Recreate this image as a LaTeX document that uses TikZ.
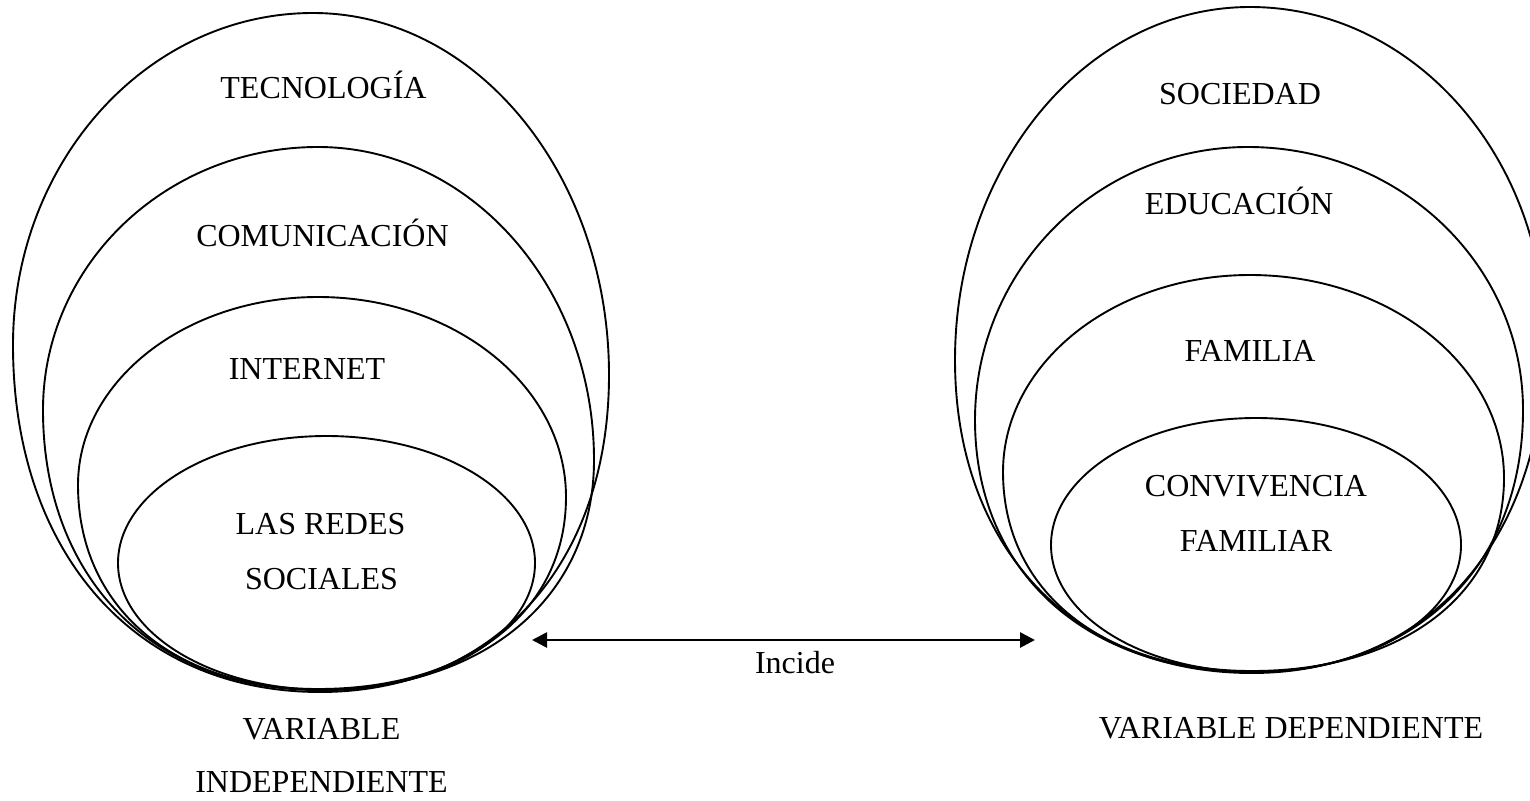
\documentclass[tikz,border=0pt]{standalone}
\usepackage{fontspec}
\setmainfont{Liberation Serif}
\usetikzlibrary{arrows.meta}
% egg-shaped closed curve: T(#1,#2) R(#3,#4) B(#5,#6) L(#7,#8), bottom fullness #9
\newcommand{\eggring}[9]{%
  \draw[ring] (#1,#2) .. controls ({#1+0.5523*(#3-#1)},#2) and (#3,{#4-0.5523*(#4-#2)}) .. (#3,#4)
    .. controls (#3,{#4+#9*(#6-#4)}) and ({#5+#9*(#3-#5)},#6) .. (#5,#6)
    .. controls ({#5-#9*(#5-#7)},#6) and (#7,{#8+#9*(#6-#8)}) .. (#7,#8)
    .. controls (#7,{#8-0.5523*(#8-#2)}) and ({#1-0.5523*(#1-#7)},#2) .. (#1,#2) -- cycle;}
\begin{document}
\begin{tikzpicture}[x=1pt,y=-1pt,
  ring/.style={line width=1.9pt},
  lbl/.style={font=\fontsize{32}{38}\selectfont, inner sep=0pt, anchor=base},
  conn/.style={line width=2.7pt, {Triangle[length=15pt,width=15pt]}-{Triangle[length=15pt,width=15pt]}}]
\useasboundingbox (0,0) rectangle (1530,800);
% left group
\eggring{313}{13}{609}{375}{320}{692}{13}{345}{0.6}
\eggring{318}{147}{594}{460}{318}{690}{43}{410}{0.6}
\eggring{318}{297}{566}{497}{318}{689}{78}{485}{0.6}
\draw[ring] (326.5,563) ellipse (208.5 and 127);
% right group
\eggring{1250}{7}{1545}{340}{1252}{673}{955}{360}{0.6}
\eggring{1248}{147}{1523}{410}{1252}{672}{975}{420}{0.6}
\eggring{1250}{275}{1504}{478}{1252}{671}{1003}{472}{0.6}
\draw[ring] (1256,545) ellipse (205 and 127);
% labels left
\node[lbl] (tec) at (323.5,98) {TECNOLOGÍA};
\node[lbl] (com) at (322.5,246) {COMUNICACIÓN};
\node[lbl] (int) at (307,379) {INTERNET};
\node[lbl] (red1) at (320.5,534) {LAS REDES};
\node[lbl] (red2) at (321.5,589) {SOCIALES};
\node[lbl] (vi1) at (321.5,739) {VARIABLE};
\node[lbl] (vi2) at (321.5,792) {INDEPENDIENTE};
% labels right
\node[lbl] (soc) at (1240,104) {SOCIEDAD};
\node[lbl] (edu) at (1239,214) {EDUCACIÓN};
\node[lbl] (fam) at (1250,361) {FAMILIA};
\node[lbl] (conv1) at (1256,496) {CONVIVENCIA};
\node[lbl] (conv2) at (1256,551) {FAMILIAR};
\node[lbl] (vd) at (1291,738) {VARIABLE DEPENDIENTE};
% arrow
\coordinate (aL) at (532,640);
\coordinate (aR) at (1035,640);
\draw[conn] (aL) -- (aR);
\node[lbl] (inc) at (795,673) {Incide};
\end{tikzpicture}
\end{document}
